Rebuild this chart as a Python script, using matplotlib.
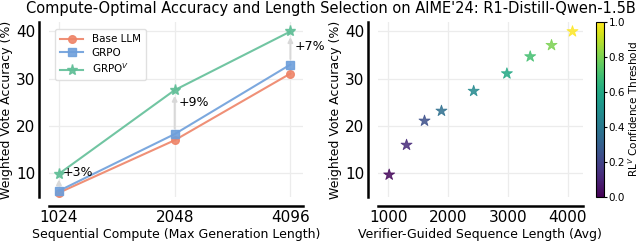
import numpy as np
import matplotlib
matplotlib.use("Agg")
import matplotlib.pyplot as plt
from matplotlib.ticker import FixedLocator, NullLocator

# left panel: accuracy vs. max generation length
gen_lengths = [1024, 2048, 4096]
base_llm = [5.9, 17.0, 31.1]
grpo = [6.3, 18.3, 33.0]
grpo_v = [9.9, 27.6, 40.0]
gain_labels = ['+3%', '+9%', '+7%']

# right panel: verifier-guided selection
seq_lengths = [1017, 1307, 1607, 1890, 2428, 2983, 3372, 3728, 4078]
sel_accuracy = [9.7, 16.0, 21.1, 23.2, 27.4, 31.1, 34.7, 37.1, 40.0]
thresholds = [0.02, 0.12, 0.24, 0.36, 0.47, 0.6, 0.7, 0.8, 1.0]

c_base = '#EE8468'
c_grpo = '#6E9FDB'
c_grpov = '#62BF98'

plt.rcParams['font.family'] = 'DejaVu Sans'

fig = plt.figure(figsize=(6.4, 2.42), dpi=100)
ax1 = fig.add_axes([0.0766, 0.186, 0.397, 0.723])
ax2 = fig.add_axes([0.5906, 0.186, 0.320, 0.723])
cax = fig.add_axes([0.931, 0.186, 0.0125, 0.723])


def style_axis(ax):
    for side in ['top', 'right']:
        ax.spines[side].set_visible(False)
    ax.spines['left'].set_position(('outward', 7))
    ax.spines['bottom'].set_position(('outward', 6.5))
    ax.spines['left'].set_linewidth(1.8)
    ax.spines['bottom'].set_linewidth(1.8)
    ax.grid(True, color='#ececec', linewidth=0.9)
    ax.set_axisbelow(True)
    ax.tick_params(length=0, labelsize=11, pad=3)
    ax.set_ylim(5, 42)
    ax.set_yticks([10, 20, 30, 40])
    ax.set_ylabel('Weighted Vote Accuracy (%)', fontsize=9, labelpad=2)


# ---- left panel
ax1.plot(gen_lengths, base_llm, '-o', color=c_base, lw=1.5, ms=5.5, alpha=0.9,
         label='Base LLM')
ax1.plot(gen_lengths, grpo, '-s', color=c_grpo, lw=1.5, ms=5.5, alpha=0.9,
         label='GRPO')
ax1.plot(gen_lengths, grpo_v, '-*', color=c_grpov, lw=1.5, ms=8, alpha=0.9,
         label='GRPO$^V$')
ax1.set_xscale('log', base=2)
ax1.xaxis.set_major_locator(FixedLocator(gen_lengths))
ax1.xaxis.set_minor_locator(NullLocator())
ax1.set_xticklabels([str(g) for g in gen_lengths])
ax1.set_xlim(965, 4420)

text_frac = [1.1, 0.72, 0.55]
for x, lo, hi, lab, f in zip(gen_lengths, grpo, grpo_v, gain_labels, text_frac):
    ax1.annotate('', xy=(x, hi - 0.6), xytext=(x, lo + 0.6),
                 arrowprops=dict(arrowstyle='-|>', color='#d8d8d8', lw=1.4,
                                 mutation_scale=7), zorder=1)
    ax1.text(x * 1.025, lo + f * (hi - lo), lab, fontsize=9, va='center',
             ha='left')

style_axis(ax1)
ax1.set_xlabel('Sequential Compute (Max Generation Length)', fontsize=9,
               labelpad=2)
ax1.legend(loc='upper left', fontsize=7.5, frameon=True, framealpha=0.9,
           edgecolor='#dddddd', handlelength=2.2, borderpad=0.5,
           labelspacing=0.35, bbox_to_anchor=(0.004, 0.99))

# ---- right panel
sc = ax2.scatter(seq_lengths, sel_accuracy, c=thresholds, cmap='viridis',
                 vmin=0, vmax=1, marker='*', s=70, alpha=0.85,
                 edgecolors='face', linewidths=0.6, zorder=3)
style_axis(ax2)
ax2.set_xlim(830, 4250)
ax2.set_xticks([1000, 2000, 3000, 4000])
ax2.set_xlabel('Verifier-Guided Sequence Length (Avg)', fontsize=9,
               labelpad=2)

cb = fig.colorbar(sc, cax=cax)
cb.solids.set_alpha(1)
cb.set_ticks([0.0, 0.2, 0.4, 0.6, 0.8, 1.0])
cb.ax.tick_params(labelsize=7.5, length=2.5, width=0.8, pad=1)
cb.outline.set_linewidth(0.8)
cb.set_label('RL$^V$ Confidence Threshold', fontsize=7.5, labelpad=1)

fig.suptitle("Compute-Optimal Accuracy and Length Selection on AIME'24: "
             "R1-Distill-Qwen-1.5B", fontsize=10.5, x=0.517, y=0.995)

fig.savefig('out.png', dpi=100)
